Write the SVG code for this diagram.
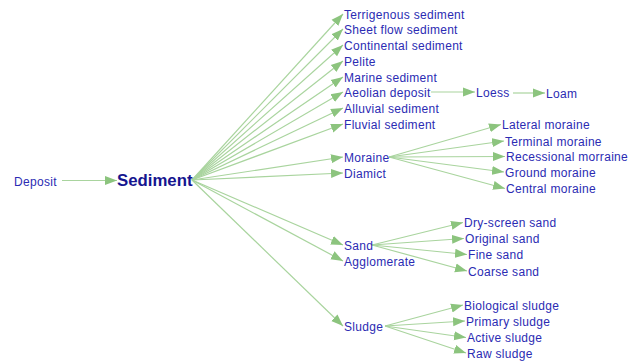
<svg xmlns="http://www.w3.org/2000/svg" width="640" height="363" viewBox="0 0 640 363">
  <style>
    .edge { stroke: #a9d49e; stroke-width: 1.2; fill: none; marker-end: url(#arrow); }
    .lbl { font-family: "Liberation Sans", Arial, sans-serif; font-size: 12px; letter-spacing: 0.3px; fill: #2b2bb3; }
    .root { font-family: "Liberation Sans", Arial, sans-serif; font-size: 16.8px; font-weight: bold; fill: #15158f; }
  </style>
  <defs>
    <marker id="arrow" markerUnits="userSpaceOnUse" markerWidth="12" markerHeight="10" viewBox="0 0 12 10" refX="12" refY="5" orient="auto">
      <path d="M0,0.5 L12,5 L0,9.5 Z" fill="#8cc47e"/>
    </marker>
  </defs>
  <rect width="640" height="363" fill="#ffffff"/>

  <g id="connectors">
    <path class="edge" d="M62,180.5 L117,180.5"/>
    <path class="edge" d="M192,180 L343,14"/>
    <path class="edge" d="M192,180 L343,29"/>
    <path class="edge" d="M192,180 L343,45"/>
    <path class="edge" d="M192,180 L343,61"/>
    <path class="edge" d="M192,180 L343,77"/>
    <path class="edge" d="M192,180 L343,92"/>
    <path class="edge" d="M192,180 L343,108"/>
    <path class="edge" d="M192,180 L343,124"/>
    <path class="edge" d="M192,180 L343,157"/>
    <path class="edge" d="M192,180 L343,173"/>
    <path class="edge" d="M192,180 L343,245"/>
    <path class="edge" d="M192,180 L343,261"/>
    <path class="edge" d="M192,180 L343,326"/>
    <path class="edge" d="M431,92 L475,92"/>
    <path class="edge" d="M513,93 L545,93"/>
    <path class="edge" d="M389,157 L501,124.5"/>
    <path class="edge" d="M389,157 L504,141"/>
    <path class="edge" d="M389,157 L505,156.5"/>
    <path class="edge" d="M389,157 L504,172"/>
    <path class="edge" d="M389,157 L505,188.5"/>
    <path class="edge" d="M372,245 L463,222.5"/>
    <path class="edge" d="M372,245 L464,238.5"/>
    <path class="edge" d="M372,245 L467,254.5"/>
    <path class="edge" d="M372,245 L467,271"/>
    <path class="edge" d="M385,326 L463,305"/>
    <path class="edge" d="M385,326 L465,321"/>
    <path class="edge" d="M385,326 L466,337.5"/>
    <path class="edge" d="M385,326 L466,353"/>
  </g>

  <g id="deposit"><text class="lbl" x="14" y="185.5">Deposit</text></g>
  <g id="sediment"><text class="root" x="117" y="186">Sediment</text></g>

  <g id="terrigenous"><text class="lbl" x="344" y="18.5">Terrigenous sediment</text></g>
  <g id="sheet-flow"><text class="lbl" x="344" y="33.5">Sheet flow sediment</text></g>
  <g id="continental"><text class="lbl" x="344" y="49.5">Continental sediment</text></g>
  <g id="pelite"><text class="lbl" x="344" y="65.5">Pelite</text></g>
  <g id="marine"><text class="lbl" x="344" y="81.5">Marine sediment</text></g>
  <g id="aeolian"><text class="lbl" x="344" y="96.5">Aeolian deposit</text></g>
  <g id="alluvial"><text class="lbl" x="344" y="112.5">Alluvial sediment</text></g>
  <g id="fluvial"><text class="lbl" x="344" y="128.5">Fluvial sediment</text></g>
  <g id="moraine"><text class="lbl" x="344" y="161.5">Moraine</text></g>
  <g id="diamict"><text class="lbl" x="344" y="177.5">Diamict</text></g>
  <g id="sand"><text class="lbl" x="344" y="249.5">Sand</text></g>
  <g id="agglomerate"><text class="lbl" x="344" y="265.5">Agglomerate</text></g>
  <g id="sludge"><text class="lbl" x="344" y="330.5">Sludge</text></g>

  <g id="loess"><text class="lbl" x="476" y="96.5">Loess</text></g>
  <g id="loam"><text class="lbl" x="546" y="97.5">Loam</text></g>

  <g id="lateral-moraine"><text class="lbl" x="502" y="129">Lateral moraine</text></g>
  <g id="terminal-moraine"><text class="lbl" x="505" y="145.5">Terminal moraine</text></g>
  <g id="recessional-moraine"><text class="lbl" x="506" y="161">Recessional morraine</text></g>
  <g id="ground-moraine"><text class="lbl" x="505" y="176.5">Ground moraine</text></g>
  <g id="central-moraine"><text class="lbl" x="506" y="193">Central moraine</text></g>

  <g id="dry-screen-sand"><text class="lbl" x="464" y="227">Dry-screen sand</text></g>
  <g id="original-sand"><text class="lbl" x="465" y="243">Original sand</text></g>
  <g id="fine-sand"><text class="lbl" x="468" y="259">Fine sand</text></g>
  <g id="coarse-sand"><text class="lbl" x="468" y="275.5">Coarse sand</text></g>

  <g id="biological-sludge"><text class="lbl" x="464" y="309.5">Biological sludge</text></g>
  <g id="primary-sludge"><text class="lbl" x="466" y="325.5">Primary sludge</text></g>
  <g id="active-sludge"><text class="lbl" x="467" y="342">Active sludge</text></g>
  <g id="raw-sludge"><text class="lbl" x="467" y="357.5">Raw sludge</text></g>
</svg>
